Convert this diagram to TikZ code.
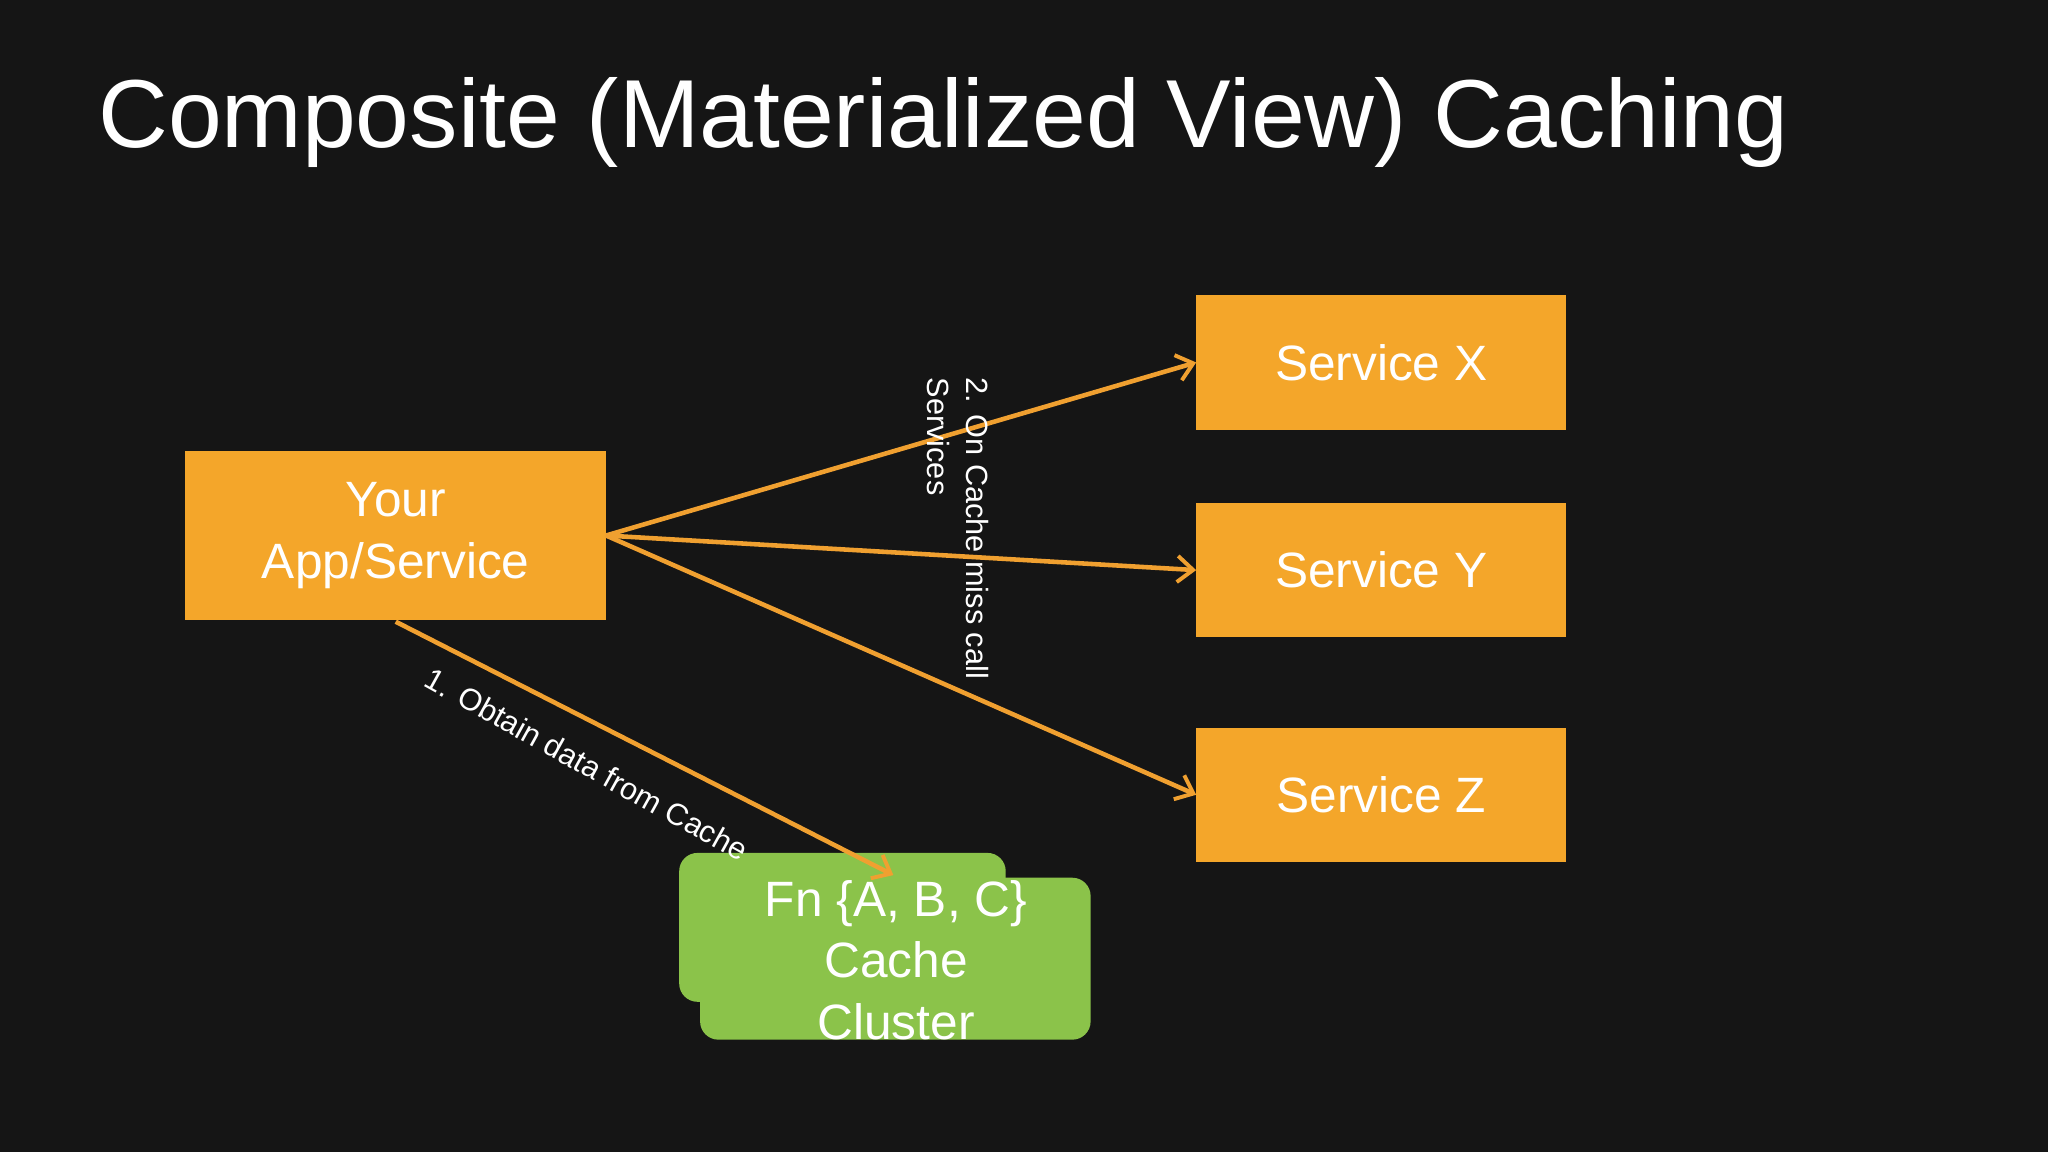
\documentclass[tikz,border=0pt]{standalone}
\usepackage{fontspec}
\setmainfont{Liberation Sans}
\usetikzlibrary{arrows.meta}
\definecolor{bg}{HTML}{151515}
\definecolor{org}{HTML}{F4A62A}
\definecolor{arr}{HTML}{F0A030}
\definecolor{grn}{HTML}{8BC34A}
\begin{document}
\begin{tikzpicture}[x=1pt,y=-1pt,
  svc/.style={fill=org,draw=none,minimum width=283pt,minimum height=103pt,text=white,font=\fontsize{38}{44}\selectfont,inner sep=0pt},
  conn/.style={draw=arr,line width=3.5pt,-{Straight Barb[length=12pt,width=20pt,line width=3pt]}},
  lab/.style={text=white,font=\fontsize{23.5}{30}\selectfont,inner sep=0pt}]
\useasboundingbox (0,0) rectangle (1568,882);
\fill[bg] (0,0) rectangle (1568,882);
\node[anchor=base west,text=white,font=\fontsize{74}{80}\selectfont,inner sep=0pt] (title) at (75,113) {Composite (Materialized View) Caching};
\node[svc,minimum width=322pt,minimum height=130pt,align=center,font=\fontsize{38}{48}\selectfont] (app) at (303,410) {Your\\App/Service};
\node[svc] (x) at (1057.5,277.5) {Service X};
\node[svc] (y) at (1057.5,436.5) {Service Y};
\node[svc] (z) at (1057.5,608.5) {Service Z};
\fill[grn,rounded corners=14pt] (520,653) rectangle (770,767);
\node[fill=grn,rounded corners=14pt,minimum width=299pt,minimum height=124pt,inner sep=0pt] (cache) at (685.5,734) {};
\node[text=white,align=center,font=\fontsize{38}{47}\selectfont,inner sep=0pt] (ctext) at (686,735) {Fn \{A, B, C\}\\Cache\\Cluster};
\coordinate (o) at (464,410);
\coordinate (s) at (303,476);
\coordinate (e) at (684,670);
\draw[conn] (o) -- (x.west);
\draw[conn] (o) -- (y.west);
\draw[conn] (o) -- (z.west);
\draw[conn] (s) -- (e);
\node[lab,rotate=-29,anchor=north west] (l1) at (332,510) {1. Obtain data from Cache};
\node[lab,rotate=-90,anchor=north west,align=left] (l2) at (757,289) {2. On Cache miss call\\Services};
\end{tikzpicture}
\end{document}
